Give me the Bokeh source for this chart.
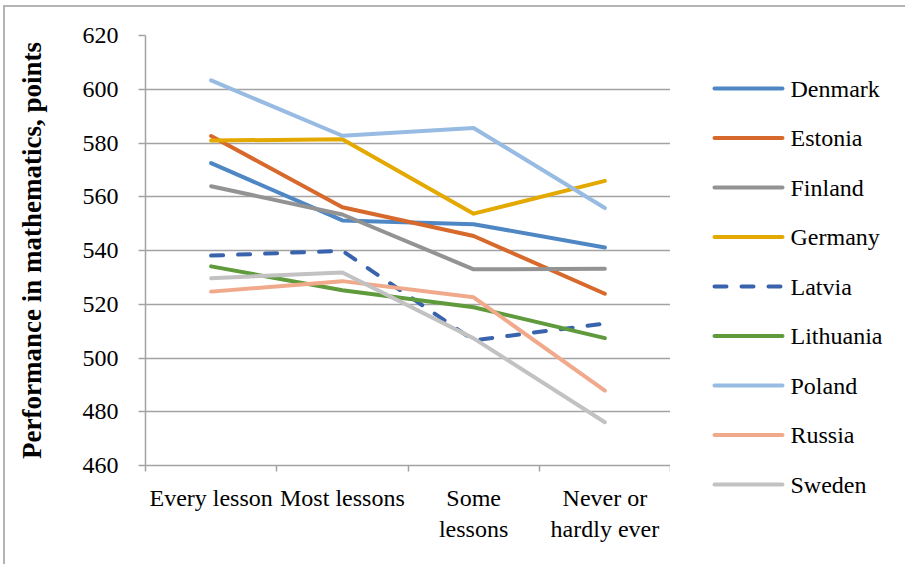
from bokeh.plotting import figure
from bokeh.layouts import row, column
from bokeh.models import FixedTicker, Range1d, ColumnDataSource
from bokeh.core.properties import value
from bokeh.embed import file_html
from bokeh.resources import INLINE

categories = ["Every lesson", "Most lessons", "Some\nlessons", "Never or\nhardly ever"]
countries = ["Denmark", "Estonia", "Finland", "Germany", "Latvia", "Lithuania", "Poland", "Russia", "Sweden"]
denmark = [572.5, 551.2, 549.8, 541.1]
estonia = [582.6, 556.1, 545.4, 523.9]
finland = [563.9, 553.4, 533.0, 533.2]
germany = [580.9, 581.4, 553.7, 565.9]
latvia = [538.1, 539.9, 506.6, 512.8]
lithuania = [534.1, 525.2, 518.9, 507.4]
poland = [603.3, 582.7, 585.6, 555.8]
russia = [524.7, 528.6, 522.6, 487.9]
sweden = [529.7, 531.8, 507.3, 476.1]
series = [denmark, estonia, finland, germany, latvia, lithuania, poland, russia, sweden]
colors = ["#4E87C4", "#D6692B", "#939393", "#E3A900", "#3A63AE", "#5F9B3D", "#97BBE2", "#F1A98B", "#C2C2C2"]
y_ticks = [460, 480, 500, 520, 540, 560, 580, 600, 620]

FONT = "Liberation Serif"
GRID = "#A3A3A3"
EDGE = "#B4B4B4"

p = figure(width=670, height=564, output_backend="svg", toolbar_location=None,
           x_range=Range1d(0, 4), y_range=Range1d(460, 620),
           min_border_left=145, min_border_right=0, min_border_top=35, min_border_bottom=99)
p.outline_line_color = None
p.background_fill_color = "white"
p.border_fill_color = None

xs = [i + 0.5 for i in range(len(categories))]
for name, vals, col in zip(countries, series, colors):
    dash = "12 15" if name == "Latvia" else "solid"
    p.line(xs, vals, line_color=col, line_width=4, line_dash=dash,
           line_cap="round", line_join="round")

p.xgrid.visible = False
p.ygrid.grid_line_color = GRID
p.ygrid.grid_line_width = 1.5
p.yaxis.ticker = FixedTicker(ticks=y_ticks, minor_ticks=[])
p.yaxis.axis_line_color = GRID
p.yaxis.axis_line_width = 1.5
p.yaxis.major_tick_line_color = GRID
p.yaxis.major_tick_line_width = 1.5
p.yaxis.major_tick_out = 7
p.yaxis.major_tick_in = 0
p.yaxis.major_label_standoff = 20
p.yaxis.major_label_text_font = FONT
p.yaxis.major_label_text_font_size = "24px"
p.yaxis.major_label_text_color = "black"
p.yaxis.axis_label = "Performance in mathematics, points"
p.yaxis.axis_label_text_font = FONT
p.yaxis.axis_label_text_font_size = "27px"
p.yaxis.axis_label_text_font_style = "bold"
p.yaxis.axis_label_text_color = "black"
p.yaxis.axis_label_standoff = 33

p.xaxis.ticker = FixedTicker(ticks=xs, minor_ticks=[0, 1, 2, 3, 4])
p.xaxis.major_label_overrides = {x: c for x, c in zip(xs, categories)}
p.xaxis.axis_line_color = GRID
p.xaxis.axis_line_width = 1.5
p.xaxis.major_tick_out = 0
p.xaxis.major_tick_in = 0
p.xaxis.minor_tick_out = 6
p.xaxis.minor_tick_in = 0
p.xaxis.minor_tick_line_color = GRID
p.xaxis.minor_tick_line_width = 1.5
p.xaxis.major_label_standoff = 13
p.xaxis.major_label_text_font = FONT
p.xaxis.major_label_text_font_size = "24px"
p.xaxis.major_label_text_color = "black"

# legend panel (pixel coordinates, y downward)
lg = figure(width=235, height=564, output_backend="svg", toolbar_location=None,
            x_range=Range1d(0, 235), y_range=Range1d(564, 0),
            min_border=0, min_border_left=0, min_border_right=0,
            min_border_top=0, min_border_bottom=0,
            x_axis_type=None, y_axis_type=None)
lg.outline_line_color = None
lg.xgrid.visible = False
lg.ygrid.visible = False
lg.background_fill_color = None
lg.border_fill_color = None

row_y = [88 + 49.5 * i for i in range(len(countries))]
for name, col, yy in zip(countries, colors, row_y):
    dash = "12 15" if name == "Latvia" else "solid"
    lg.line([44, 112], [yy, yy], line_color=col, line_width=4, line_dash=dash, line_cap="round")
src = ColumnDataSource(dict(x=[120] * len(countries), y=row_y, t=countries))
lg.text("x", "y", text="t", source=src, text_font=value(FONT), text_font_size="24px",
        text_baseline="middle", text_align="left", text_color="black")

edge_bg = (f"linear-gradient({EDGE},{EDGE}) 3px 5px / 2px 100% no-repeat, "
           f"linear-gradient({EDGE},{EDGE}) 3px 5px / 100% 2px no-repeat, white")
layout = row(p, column(lg, spacing=0), spacing=0, styles={"background": edge_bg})
open("out.html", "w").write(file_html(layout, INLINE))
